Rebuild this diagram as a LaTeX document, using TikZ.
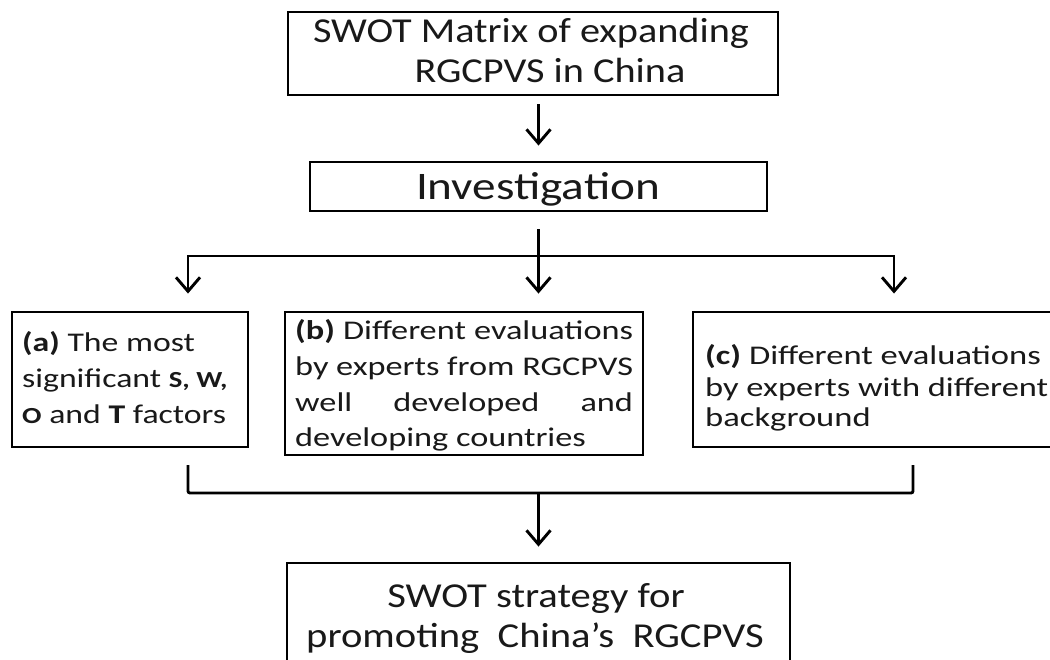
\documentclass[tikz,border=0pt]{standalone}
\usepackage{graphicx}
\usepackage{fontspec}
\setmainfont{Carlito}
\usetikzlibrary{arrows.meta}
\newcommand{\hs}[2]{\scalebox{#1}[1]{#2}}
\newcommand{\sm}[1]{{\fontsize{23}{26}\selectfont\textbf{#1}}}
\begin{document}
\begin{tikzpicture}[x=1pt,y=-1pt,
  box/.style={draw=black, line width=2.9pt, inner sep=0pt, fill=none},
  conn/.style={draw=black, line width=2.9pt},
  arr/.style={conn, -{Straight Barb[length=14pt,width=24pt]}},
  big/.style={inner sep=0pt, anchor=base, font=\fontsize{35}{40}\selectfont, text=black!90},
  huge/.style={inner sep=0pt, anchor=base, font=\fontsize{39}{44}\selectfont, text=black!90},
  small/.style={inner sep=0pt, anchor=base west, font=\fontsize{27}{34}\selectfont, text=black!90}]
\useasboundingbox (0,0) rectangle (1050,660);
\fill[white] (0,0) rectangle (1050,660);

% boxes
\node[box, minimum width=490pt, minimum height=83pt] (top) at (533,53.5) {};
\node[box, minimum width=457pt, minimum height=49pt] (inv) at (538.5,186.5) {};
\node[box, minimum width=236pt, minimum height=135pt] (a) at (130,379.5) {};
\node[box, minimum width=358pt, minimum height=143pt] (b) at (464,383.5) {};
\node[box, minimum width=372pt, minimum height=135pt] (c) at (879,379.5) {};
\node[box, minimum width=503pt, minimum height=127pt] (bot) at (538.5,626.5) {};

% texts
\node[big] (t1) at (531,43) {\hs{1.15}{SWOT Matrix of expanding}};
\node[big] (t2) at (550,83) {\hs{1.15}{RGCPVS in China}};
\node[huge] (t3) at (538,200) {\hs{1.21}{Investigation}};

\node[small] (a1) at (22,352) {\hs{1.25}{\textbf{(a)} The most}};
\node[small] (a2) at (22,388) {\hs{1.25}{significant \sm{S, W,}}};
\node[small] (a3) at (22,424) {\hs{1.25}{\sm{O} and \textbf{T} factors}};

\node[small] (b1) at (295,340) {\hs{1.27}{\makebox[266pt][s]{\textbf{(b)} Different evaluations}}};
\node[small] (b2) at (295,376) {\hs{1.27}{\makebox[266pt][s]{by experts from RGCPVS}}};
\node[small] (b3) at (295,411) {\hs{1.27}{\makebox[266pt][s]{well developed and}}};
\node[small] (b4) at (295,446) {\hs{1.27}{developing countries}};

\node[small] (c1) at (705,365) {\hs{1.28}{\textbf{(c)} Different evaluations}};
\node[small] (c2) at (705,396) {\hs{1.275}{by experts with different}};
\node[small] (c3) at (705,426) {\hs{1.28}{background}};

\node[big] (d1) at (536,607) {\hs{1.16}{SWOT strategy for}};
\node[big] (d2) at (535,647) {\hs{1.16}{promoting\ \ China’s\ \ RGCPVS}};

% connectors
\coordinate (sL) at (188,256);
\coordinate (sM) at (538.5,256);
\coordinate (sR) at (894,256);
\coordinate (bl) at (188,465);
\coordinate (br) at (913,465);
\coordinate (bm) at (538.5,493);

\draw[arr, shorten <=8pt, shorten >=15pt] (top.south -| inv.north) -- (inv.north);
\draw[arr, shorten <=17pt, shorten >=17pt] (inv.south) -- (inv.south |- b.north);
\draw[arr, shorten >=17pt] (sM) -- (sL) -- (sL |- a.north);
\draw[arr, shorten >=17pt] (sM) -- (sR) -- (sR |- c.north);
\draw[conn, rounded corners=2pt] (bl) -- (bl |- bm) -- (br |- bm) -- (br);
\draw[arr, shorten >=15pt] (bm) -- (bm |- bot.north);
\end{tikzpicture}
\end{document}
